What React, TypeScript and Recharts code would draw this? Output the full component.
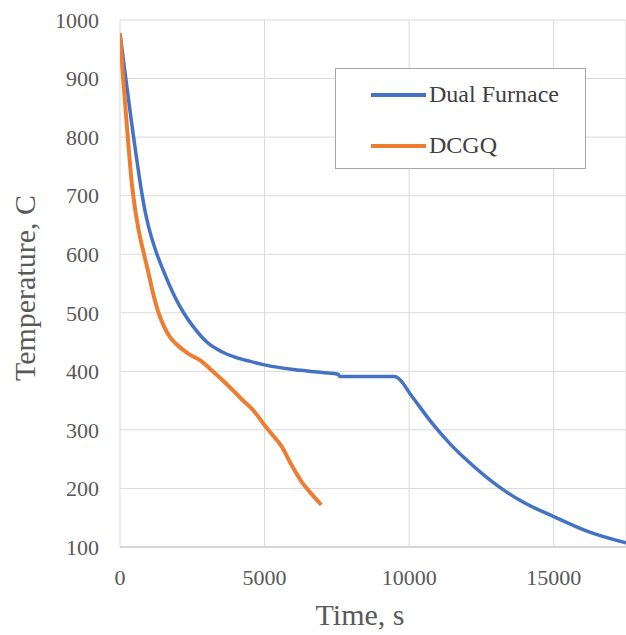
import React from 'react';
import {
  LineChart,
  Line,
  XAxis,
  YAxis,
  CartesianGrid,
  Legend,
  Label,
} from 'recharts';

// (time in s, temperature in C)
const dualTime = [0, 200, 400, 550, 650, 750, 850, 1000, 1250, 1500, 1900, 2200, 2600, 3000, 3500, 4000, 4500, 5000, 6000, 7000, 7550, 7600, 9500, 9600, 10100, 10800, 11400, 12000, 13100, 14000, 15000, 16100, 17500];
const dualTemp = [977, 900, 825, 772, 738, 706, 678, 645, 604, 572, 527, 500, 472, 450, 434, 424, 417, 411, 403, 398, 395, 391, 391, 389, 357, 311, 277, 248, 203, 175, 152, 128, 107];

const dcgqTime = [0, 100, 270, 400, 500, 650, 840, 1000, 1150, 1300, 1500, 1750, 2000, 2400, 2800, 3100, 3500, 3900, 4300, 4600, 5000, 5300, 5600, 5900, 6300, 6600, 6960];
const dcgqTemp = [977, 905, 800, 725, 685, 640, 598, 565, 532, 505, 479, 457, 444, 429, 418, 405, 387, 368, 348, 334, 308, 290, 271, 243, 210, 192, 172];

const xTicks = [0, 5000, 10000, 15000];
const yTicks = [100, 200, 300, 400, 500, 600, 700, 800, 900, 1000];

const seriesNames = ['Dual Furnace', 'DCGQ'];
const seriesColors = ['#4472C4', '#ED7D31'];

const dualData = dualTime.map((t, i) => ({ time: t, temp: dualTemp[i] }));
const dcgqData = dcgqTime.map((t, i) => ({ time: t, temp: dcgqTemp[i] }));

const FONT = '"Liberation Serif", "Times New Roman", serif';
const TEXT = '#595959';

const renderLegend = () => (
  <div
    style={{
      width: 251,
      height: 101,
      boxSizing: 'border-box',
      border: '1px solid #a6a6a6',
      background: '#fff',
      fontFamily: FONT,
      fontSize: 24,
      color: '#404040',
      paddingTop: 12,
    }}
  >
    {seriesNames.map((name, i) => (
      <div key={name} style={{ display: 'flex', alignItems: 'center', height: 27, marginBottom: i === 0 ? 24 : 0 }}>
        <div style={{ width: 55, height: 4, marginLeft: 35, background: seriesColors[i] }} />
        <span style={{ marginLeft: 3 }}>{name}</span>
      </div>
    ))}
  </div>
);

const App: React.FC = () => {
  return (
    <div style={{ position: 'absolute', left: 0, top: 0, width: 626, height: 635, background: '#fff' }}>
      <LineChart width={626} height={635} margin={{ top: 20, right: 0, left: 0, bottom: 0 }}>
        <CartesianGrid stroke="#d9d9d9" strokeWidth={1} />
        <XAxis
          dataKey="time"
          type="number"
          domain={[0, 17500]}
          ticks={xTicks}
          allowDataOverflow
          height={88}
          tickSize={0}
          tickMargin={22}
          stroke="#bfbfbf"
          tick={{ fill: TEXT, fontSize: 22, fontFamily: FONT }}
        >
          <Label
            content={() => (
              <text x={360} y={625} textAnchor="middle" fill={TEXT} fontSize={30} fontFamily={FONT}>
                Time, s
              </text>
            )}
          />
        </XAxis>
        <YAxis
          type="number"
          domain={[100, 1000]}
          ticks={yTicks}
          allowDataOverflow
          width={120}
          tickSize={0}
          tickMargin={21}
          axisLine={false}
          tick={{ fill: TEXT, fontSize: 22, fontFamily: FONT }}
        >
          <Label
            content={() => (
              <text
                x={24}
                y={288}
                transform="rotate(-90 24 288)"
                textAnchor="middle"
                dominantBaseline="central"
                fill={TEXT}
                fontSize={30}
                fontFamily={FONT}
              >
                Temperature, C
              </text>
            )}
          />
        </YAxis>
        <Legend
          content={renderLegend}
          verticalAlign="middle"
          align="center"
          wrapperStyle={{ position: 'absolute', left: 335, top: 68, width: 251, height: 101 }}
        />
        <Line
          data={dualData}
          dataKey="temp"
          name={seriesNames[0]}
          type="monotone"
          stroke={seriesColors[0]}
          strokeWidth={3.5}
          dot={false}
          isAnimationActive={false}
        />
        <Line
          data={dcgqData}
          dataKey="temp"
          name={seriesNames[1]}
          type="monotone"
          stroke={seriesColors[1]}
          strokeWidth={4}
          dot={false}
          isAnimationActive={false}
        />
      </LineChart>
    </div>
  );
};

export default App;
